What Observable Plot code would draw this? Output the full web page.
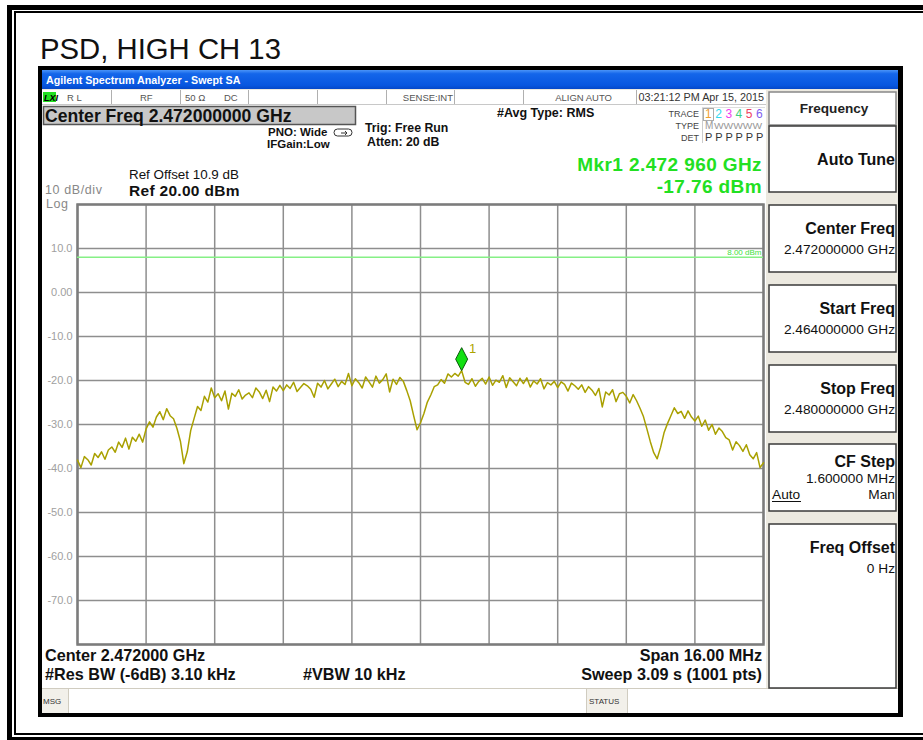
<!DOCTYPE html>
<html>
<head>
<meta charset="utf-8">
<script src="https://cdn.jsdelivr.net/npm/d3@7"></script>
<script src="https://cdn.jsdelivr.net/npm/@observablehq/plot@0.6"></script>
<style>
  html, body { margin: 0; padding: 0; background: #fff; }
  #page { position: relative; width: 923px; height: 740px; overflow: hidden; }
  #chrome { position: absolute; left: 0; top: 0; }
  #plot { position: absolute; left: 40px; top: 196px; }
  #plot svg { display: block; }
</style>
</head>
<body>
<div id="page">
<svg id="chrome" width="923" height="740" font-family="'Liberation Sans', Arial, sans-serif">
  <defs>
    <linearGradient id="tb" x1="0" y1="0" x2="0" y2="1">
      <stop offset="0" stop-color="#4a94f8"/>
      <stop offset="0.2" stop-color="#1466ea"/>
      <stop offset="0.8" stop-color="#0857e0"/>
      <stop offset="1" stop-color="#0548c8"/>
    </linearGradient>
  </defs>
  <rect width="923" height="740" fill="#fff"/>
  <!-- outer document frame -->
  <rect x="7" y="5" width="916" height="5" fill="#000"/>
  <rect x="14" y="11" width="909" height="2" fill="#000"/>
  <rect x="7" y="5" width="5" height="735" fill="#000"/>
  <rect x="14" y="11" width="2" height="724" fill="#000"/>
  <rect x="14" y="733" width="909" height="2" fill="#000"/>
  <rect x="7" y="737" width="916" height="3" fill="#000"/>
  <text x="40" y="59" font-size="29.3" fill="#111">PSD, HIGH CH 13</text>

  <!-- analyzer window -->
  <rect x="38" y="66" width="865" height="651" fill="#000"/>
  <rect x="42" y="70" width="856" height="19" fill="url(#tb)"/>
  <text x="46" y="84" fill="#fff" font-weight="bold" font-size="10.7">Agilent Spectrum Analyzer - Swept SA</text>
  <rect x="42" y="89" width="856" height="624" fill="#ece9e0"/>
  <rect x="42" y="90" width="724" height="598" fill="#fff"/>

  <!-- status row -->
  <line x1="42" y1="104.5" x2="766" y2="104.5" stroke="#c8c8c8"/>
  <g stroke="#b0b0b0">
    <line x1="111.5" y1="90" x2="111.5" y2="104"/>
    <line x1="180.5" y1="90" x2="180.5" y2="104"/>
    <line x1="248.5" y1="90" x2="248.5" y2="104"/>
    <line x1="317.5" y1="90" x2="317.5" y2="104"/>
    <line x1="386.5" y1="90" x2="386.5" y2="104"/>
    <line x1="454.5" y1="90" x2="454.5" y2="104"/>
    <line x1="523.5" y1="90" x2="523.5" y2="104"/>
    <line x1="636.5" y1="90" x2="636.5" y2="104"/>
  </g>
  <rect x="43" y="92" width="13" height="10" fill="#22e022"/>
  <text x="44" y="101" font-size="9" font-weight="bold" font-style="italic" fill="#000">LXI</text>
  <g font-size="9.5" fill="#555">
    <text x="67" y="101">R L</text>
    <text x="140" y="101">RF</text>
    <text x="185" y="101">50 Ω</text>
    <text x="224" y="101">DC</text>
    <text x="453" y="101" text-anchor="end">SENSE:INT</text>
    <text x="612" y="101" text-anchor="end">ALIGN AUTO</text>
  </g>
  <text x="764" y="101" font-size="10.8" fill="#333" text-anchor="end">03:21:12 PM Apr 15, 2015</text>

  <!-- center freq box -->
  <rect x="43.5" y="106.5" width="312" height="18" fill="#c8c8c8" stroke="#555" stroke-width="1.5"/>
  <text x="45" y="121.5" font-size="17.6" font-weight="bold" fill="#111">Center Freq 2.472000000 GHz</text>

  <g font-size="11.5" font-weight="bold" fill="#111">
    <text x="268" y="136">PNO: Wide</text>
    <text x="267" y="148">IFGain:Low</text>
  </g>
  <g font-size="12.3" font-weight="bold" fill="#111">
    <text x="365" y="132">Trig: Free Run</text>
    <text x="367" y="146">Atten: 20 dB</text>
  </g>
  <rect x="334" y="129" width="18" height="7" rx="3.5" fill="none" stroke="#333" stroke-width="1"/>
  <path d="M341 133 L347 133 M345 131 L347 133 L345 135" stroke="#333" fill="none"/>

  <text x="497" y="117" font-size="12.5" font-weight="bold" fill="#111">#Avg Type: RMS</text>

  <!-- trace block -->
  <line x1="702.5" y1="107" x2="702.5" y2="143" stroke="#ccc"/>
  <line x1="702" y1="107.5" x2="765" y2="107.5" stroke="#ddd"/>
  <g font-size="9" fill="#444" text-anchor="end">
    <text x="699" y="117">TRACE</text>
    <text x="699" y="129">TYPE</text>
    <text x="699" y="141">DET</text>
  </g>
  <rect x="703.5" y="108.5" width="10" height="12" fill="none" stroke="#aaa"/>
  <g font-size="12">
    <text x="705" y="118" fill="#f0a030">1</text>
    <text x="715.2" y="118" fill="#30d8f0">2</text>
    <text x="725.4" y="118" fill="#f040f0">3</text>
    <text x="735.6" y="118" fill="#40d080">4</text>
    <text x="745.8" y="118" fill="#f04060">5</text>
    <text x="756" y="118" fill="#8060f0">6</text>
  </g>
  <text x="705" y="129" font-size="10" fill="#999">M</text>
  <text x="714" y="129" font-size="9" fill="#999" textLength="48" lengthAdjust="spacingAndGlyphs">WWWWW</text>
  <g font-size="11" fill="#333">
    <text x="705" y="141">P</text>
    <text x="715.2" y="141">P</text>
    <text x="725.4" y="141">P</text>
    <text x="735.6" y="141">P</text>
    <text x="745.8" y="141">P</text>
    <text x="756" y="141">P</text>
  </g>

  <!-- marker readout -->
  <g font-size="19" font-weight="bold" fill="#22e022" text-anchor="end" letter-spacing="0.4">
    <text x="762" y="171">Mkr1 2.472 960 GHz</text>
    <text x="762" y="192.5">-17.76 dBm</text>
  </g>

  <text x="129" y="178.5" font-size="13.4" fill="#111">Ref Offset 10.9 dB</text>
  <text x="129" y="195.5" font-size="15.5" font-weight="bold" fill="#111" letter-spacing="0.3">Ref 20.00 dBm</text>
  <text x="45" y="194" font-size="12.5" fill="#888" letter-spacing="0.6">10 dB/div</text>
  <text x="46" y="208" font-size="12.5" fill="#888" letter-spacing="0.5">Log</text>

  <!-- bottom annotations -->
  <g font-size="16.2" font-weight="bold" fill="#111">
    <text x="45" y="661">Center 2.472000 GHz</text>
    <text x="45" y="680">#Res BW (-6dB)  3.10 kHz</text>
    <text x="303" y="680">#VBW 10 kHz</text>
    <text x="762" y="661" text-anchor="end">Span 16.00 MHz</text>
    <text x="762" y="680" text-anchor="end">Sweep  3.09 s (1001 pts)</text>
  </g>

  <!-- status bar -->
  <rect x="42" y="689" width="856" height="24" fill="#fff"/>
  <line x1="42" y1="688.5" x2="898" y2="688.5" stroke="#d0ccc0"/>
  <rect x="42" y="689" width="26" height="24" fill="#f2f0ea"/>
  <line x1="68.5" y1="689" x2="68.5" y2="713" stroke="#d0ccc0"/>
  <rect x="587" y="689" width="40" height="24" fill="#f2f0ea"/>
  <line x1="586.5" y1="689" x2="586.5" y2="713" stroke="#d0ccc0"/>
  <line x1="627.5" y1="689" x2="627.5" y2="713" stroke="#d0ccc0"/>
  <text x="43" y="704" font-size="8" fill="#333">MSG</text>
  <text x="589" y="704" font-size="8" fill="#333">STATUS</text>

  <!-- softkey panel -->
  <g fill="#fff" stroke="#3a3a3a" stroke-width="1.5">
    <rect x="769" y="92" width="127" height="33" stroke="#888"/>
    <rect x="769" y="126" width="127" height="66"/>
    <rect x="769" y="205" width="127" height="67"/>
    <rect x="769" y="285" width="127" height="67"/>
    <rect x="769" y="365" width="127" height="67"/>
    <rect x="769" y="444" width="127" height="67"/>
    <rect x="769" y="524" width="127" height="164"/>
  </g>
  <text x="834" y="113" font-size="13.6" fill="#222" text-anchor="middle" font-weight="bold">Frequency</text>
  <g text-anchor="end" fill="#111">
    <text x="895" y="165" font-size="16" font-weight="bold">Auto Tune</text>
    <text x="895" y="234" font-size="16" font-weight="bold">Center Freq</text>
    <text x="895" y="254" font-size="13.7">2.472000000 GHz</text>
    <text x="895" y="314" font-size="16" font-weight="bold">Start Freq</text>
    <text x="895" y="334" font-size="13.7">2.464000000 GHz</text>
    <text x="895" y="394" font-size="16" font-weight="bold">Stop Freq</text>
    <text x="895" y="414" font-size="13.7">2.480000000 GHz</text>
    <text x="895" y="467" font-size="16" font-weight="bold">CF Step</text>
    <text x="895" y="483" font-size="13.7">1.600000 MHz</text>
    <text x="895" y="499" font-size="13.7">Man</text>
    <text x="895" y="553" font-size="16" font-weight="bold">Freq Offset</text>
    <text x="895" y="573" font-size="13.7">0 Hz</text>
  </g>
  <text x="772" y="499" font-size="13.7" fill="#111">Auto</text>
  <line x1="772" y1="501.5" x2="801" y2="501.5" stroke="#111"/>
</svg>
<div id="plot"></div>
</div>
<script>
// ---- data ----
const startFreqMHz = 2464;
const stopFreqMHz = 2480;
// Trace 1 level in dBm at evenly spaced sweep points from start to stop
const levels = [
  -38.1, -39.8, -37.3, -38.0, -39.2, -36.6, -37.5, -36.2, -37.9, -35.8,
  -35.1, -36.3, -34.0, -35.2, -33.1, -35.6, -32.9, -33.8, -32.2, -34.0,
  -31.0, -29.4, -30.6, -28.3, -27.1, -28.9, -26.4, -28.0, -28.7, -30.9,
  -33.8, -38.9, -36.2, -31.4, -28.6, -25.9, -26.8, -23.6, -24.9, -21.7,
  -23.9, -23.0, -24.6, -22.4, -26.5, -22.9, -23.6, -22.1, -24.2, -23.3,
  -22.8, -23.9, -21.7, -22.6, -24.1, -22.2, -24.8, -21.5, -22.4, -21.1,
  -22.3, -21.0, -21.8, -20.4, -22.5, -21.6, -20.7, -21.2, -22.0, -23.8,
  -20.6, -21.5, -20.0, -21.9, -20.8, -19.7, -21.4, -20.2, -20.9, -18.4,
  -21.2, -19.6, -20.5, -21.7, -19.2, -20.3, -21.5, -19.0, -20.6, -19.8,
  -18.5, -22.6, -19.7, -20.9, -19.3, -20.2, -22.3, -24.6, -28.0, -31.2,
  -29.6, -27.5, -24.9, -23.3, -21.4, -21.0, -19.8, -20.6, -18.5, -19.2,
  -18.4, -19.0, -17.76, -20.4, -20.9, -19.6, -21.3, -20.2, -19.5, -20.8,
  -19.2, -21.1, -19.9, -20.4, -18.9, -21.6, -19.4, -20.3, -21.2, -19.5,
  -20.7, -19.4, -21.5, -20.1, -20.8, -19.6, -21.9, -20.5, -21.0, -20.2,
  -21.6, -20.3, -20.9, -22.4, -20.6, -21.2, -22.0, -21.0, -22.7, -21.4,
  -22.2, -23.4, -21.8, -26.0, -22.6, -23.3, -22.1, -24.8, -23.0, -22.7,
  -23.6, -25.1, -23.2, -24.6, -26.3, -28.2, -31.0, -33.9, -36.4, -37.8,
  -35.2, -31.9, -29.8, -28.0, -26.2, -27.5, -27.0, -28.6, -26.9, -28.3,
  -29.2, -28.1, -30.4, -29.0, -31.3, -30.0, -32.2, -30.8, -31.6, -33.0,
  -33.5, -35.8, -33.9, -34.8, -36.1, -34.6, -36.9, -37.8, -36.4, -39.8,
  -38.7
];
const gridFreqs = [2464, 2465.6, 2467.2, 2468.8, 2470.4, 2472, 2473.6, 2475.2, 2476.8, 2478.4, 2480];
const gridLevels = [20, 10, 0, -10, -20, -30, -40, -50, -60, -70, -80];
const yTickValues = [10, 0, -10, -20, -30, -40, -50, -60, -70];
const yTickLabels = ["10.0", "0.00", "-10.0", "-20.0", "-30.0", "-40.0", "-50.0", "-60.0", "-70.0"];
const displayLine = [8.0];
const displayLabel = ["8.00 dBm"];
const markerPoints = [{f: 2472.96, level: -17.76, name: "1"}];

// ---- build ----
const stepMHz = (stopFreqMHz - startFreqMHz) / (levels.length - 1);
const trace = levels.map((v, i) => ({f: startFreqMHz + i * stepMHz, level: v}));

const tallDiamond = {
  draw(ctx) {
    ctx.moveTo(0, 0);
    ctx.lineTo(6, -11.5);
    ctx.lineTo(0, -23);
    ctx.lineTo(-6, -11.5);
    ctx.closePath();
  }
};

const chart = Plot.plot({
  width: 724,
  height: 452,
  marginLeft: 37,
  marginRight: 1,
  marginTop: 8,
  marginBottom: 4,
  style: {background: "transparent", overflow: "visible", fontFamily: "'Liberation Sans', Arial, sans-serif"},
  x: {domain: [startFreqMHz, stopFreqMHz], axis: null},
  y: {domain: [-80, 20], axis: null},
  marks: [
    Plot.ruleX(gridFreqs, {stroke: "#8e8e8e", strokeWidth: 1.5}),
    Plot.ruleY(gridLevels, {stroke: "#8e8e8e", strokeWidth: 1.5}),
    Plot.frame({stroke: "#7c7c7c", strokeWidth: 2.5}),
    Plot.text(yTickValues, {
      y: d => d,
      text: (d, i) => yTickLabels[i],
      frameAnchor: "left",
      textAnchor: "end",
      dx: -5,
      fill: "#a0a0a0",
      fontSize: 11
    }),
    Plot.ruleY(displayLine, {stroke: "#86f086", strokeWidth: 1.5}),
    Plot.text(displayLine, {
      y: d => d,
      text: (d, i) => displayLabel[i],
      frameAnchor: "right",
      textAnchor: "end",
      dx: -2,
      dy: -5,
      fill: "#40e040",
      fontSize: 8
    }),
    Plot.line(trace, {x: "f", y: "level", stroke: "#a9a000", strokeWidth: 1.5, curve: "linear"}),
    Plot.dot(markerPoints, {
      x: "f", y: "level", symbol: tallDiamond, r: 5,
      fill: "#12e012", stroke: "#0a5a0a", strokeWidth: 1
    }),
    Plot.text(markerPoints, {
      x: "f", y: "level", text: "name", dx: 11, dy: -22,
      fill: "#aca400", fontSize: 13
    })
  ]
});
document.getElementById("plot").appendChild(chart);
</script>
</body>
</html>
